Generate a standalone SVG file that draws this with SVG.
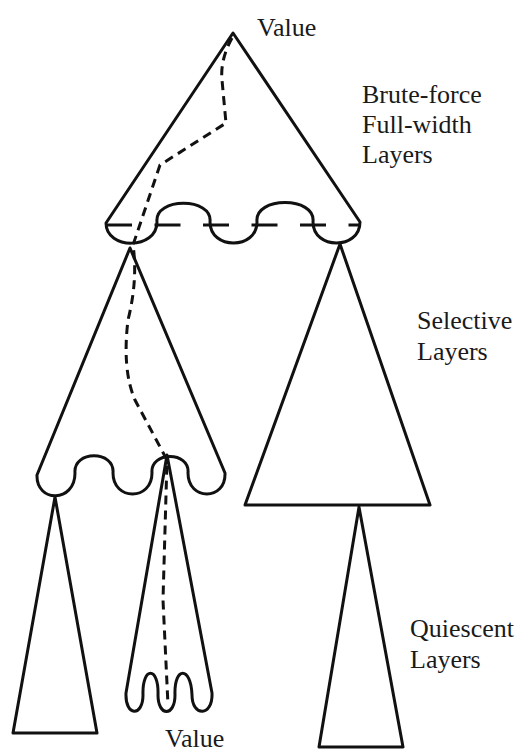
<svg xmlns="http://www.w3.org/2000/svg" width="521" height="754" viewBox="0 0 521 754">
<style>
.shape{fill:none;stroke:#111;stroke-width:3;stroke-linejoin:round;stroke-linecap:round}
.dash{fill:none;stroke:#111;stroke-width:3;stroke-dasharray:9 6}
.hdash{fill:none;stroke:#111;stroke-width:3;stroke-dasharray:26 22.5}
.lbl{font-family:"Liberation Serif","Times New Roman",serif;font-size:26px;fill:#1a1a1a}
</style>
<rect width="521" height="754" fill="#fff"/>
<g id="brute-force">
<path class="shape" d="M106,223 L233,33 L360,222 C360,250 313,250 313,222 C316,196 254,196 257,222 C257,250 210,250 210,222 C213,197 154,197 157,222 C157,250 106,250 106,223 Z"/>
<line class="hdash" x1="106" y1="225" x2="360" y2="225"/>
</g>
<g id="selective-left">
<path class="shape" d="M130,248 L225,473 C226,501 188,501 188,473 C190,451 150,451 152,473 C152,501 113,501 113,473 C115,450 73,450 75,473 C75,503 36,503 37,475 Z"/>
</g>
<g id="selective-right">
<path class="shape" d="M340,244 L430,505 L245,505 Z"/>
</g>
<g id="quiescent-left">
<path class="shape" d="M55,497 L97,733 L13,733 Z"/>
</g>
<g id="quiescent-middle">
<path class="shape" d="M167,455 L212,693 C213,717 192,717 192,695 C191,666 174,666 175,695 C175,717 158,717 158,695 C159,666 142,666 143,695 C143,717 125,717 126,693 Z"/>
</g>
<g id="quiescent-right">
<path class="shape" d="M359,507 L403,747 L319,747 Z"/>
</g>
<g id="connectors">
<path class="dash" d="M232,38 Q220,60 222,80 L226,123 L160,165 L133,245 Q138,280 128,320 Q122,370 135,400 L167,460 L163,600 L168,705"/>
</g>
<g id="labels">
<text class="lbl" x="257" y="36">Value</text>
<text class="lbl" x="362" y="103">Brute-force</text>
<text class="lbl" x="362" y="133">Full-width</text>
<text class="lbl" x="362" y="163">Layers</text>
<text class="lbl" x="417" y="329">Selective</text>
<text class="lbl" x="417" y="360">Layers</text>
<text class="lbl" x="410" y="637">Quiescent</text>
<text class="lbl" x="410" y="668">Layers</text>
<text class="lbl" x="165" y="747">Value</text>
</g>
</svg>
